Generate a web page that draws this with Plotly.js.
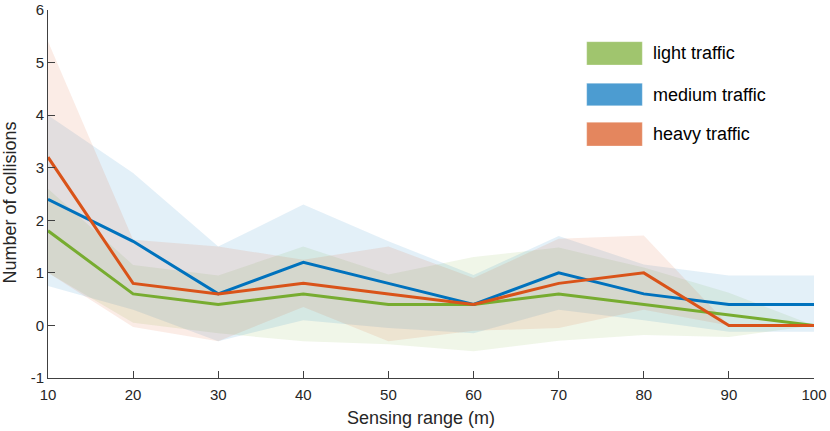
<!DOCTYPE html>
<html>
<head>
<meta charset="utf-8">
<script src="https://cdn.plot.ly/plotly-3.0.1.min.js"></script>
<style>
html,body{margin:0;padding:0;background:#fff;}
#chart{width:830px;height:431px;}
</style>
</head>
<body>
<div id="chart"></div>
<script>
// ---- data ----
var sensingRange = [10, 20, 30, 40, 50, 60, 70, 80, 90, 100];

var lightMean  = [1.8, 0.6, 0.4, 0.6, 0.4, 0.4, 0.6, 0.4, 0.2, 0.0];
var lightUpper = [2.6, 1.15, 0.95, 1.5, 0.97, 1.3, 1.48, 1.1, 0.62, 0.0];
var lightLower = [1.0, 0.05, -0.15, -0.3, -0.36, -0.49, -0.29, -0.18, -0.22, 0.0];

var mediumMean  = [2.4, 1.6, 0.6, 1.2, 0.8, 0.4, 1.0, 0.6, 0.4, 0.4];
var mediumUpper = [4.0, 2.9, 1.5, 2.3, 1.6, 0.96, 1.7, 1.16, 0.95, 0.95];
var mediumLower = [0.75, 0.3, -0.3, 0.1, -0.05, -0.15, 0.3, 0.1, -0.12, -0.12];

var heavyMean  = [3.2, 0.8, 0.6, 0.8, 0.6, 0.4, 0.8, 1.0, 0.0, 0.0];
var heavyUpper = [5.4, 1.63, 1.5, 1.25, 1.5, 0.9, 1.65, 1.71, 0.0, 0.0];
var heavyLower = [1.0, -0.03, -0.3, 0.35, -0.3, -0.1, -0.05, 0.3, 0.0, 0.0];

var seriesNames = ['light traffic', 'medium traffic', 'heavy traffic'];
var xTickVals = [10, 20, 30, 40, 50, 60, 70, 80, 90, 100];
var yTickVals = [-1, 0, 1, 2, 3, 4, 5, 6];
var yTickText = ['-1', '0', '1', '2', '3', '4', '5', '6'];

// ---- styling ----
var lineColors = ['#77AC30', '#0072BD', '#D95319'];
var bandColors = ['rgba(119,172,48,0.11)', 'rgba(0,114,189,0.11)', 'rgba(217,83,25,0.11)'];
var patchColors = ['rgba(119,172,48,0.7)', 'rgba(0,114,189,0.7)', 'rgba(217,83,25,0.7)'];
var FONT = '"Liberation Sans", Arial, Helvetica, sans-serif';

var means = [lightMean, mediumMean, heavyMean];
var uppers = [lightUpper, mediumUpper, heavyUpper];
var lowers = [lightLower, mediumLower, heavyLower];

var traces = [];
// bands
for (var i = 0; i < 3; i++) {
  var bx = sensingRange.concat(sensingRange.slice().reverse());
  var by = uppers[i].concat(lowers[i].slice().reverse());
  traces.push({
    x: bx, y: by, type: 'scatter', mode: 'lines', fill: 'toself',
    fillcolor: bandColors[i], line: {width: 0, color: 'rgba(0,0,0,0)'},
    hoverinfo: 'skip', showlegend: false, name: seriesNames[i] + ' band'
  });
}
// mean lines
for (var j = 0; j < 3; j++) {
  traces.push({
    x: sensingRange, y: means[j], type: 'scatter', mode: 'lines',
    line: {color: lineColors[j], width: 3}, name: seriesNames[j], showlegend: false
  });
}

// legend built from shapes + annotations (paper coords)
var plotL = 48, plotT = 10, plotW = 766, plotH = 368;
function px2x(p) { return (p - plotL) / plotW; }
function px2y(p) { return (plotT + plotH - p) / plotH; }
var patchTop = [41.7, 83.3, 122.3];
var patchBot = [65, 105.7, 146];
var textMid = [53.3, 95, 133.5];

var shapes = [], annotations = [];
for (var k = 0; k < 3; k++) {
  shapes.push({
    type: 'rect', xref: 'paper', yref: 'paper',
    x0: px2x(586.7), x1: px2x(642.3), y0: px2y(patchBot[k]), y1: px2y(patchTop[k]),
    fillcolor: patchColors[k], line: {width: 0.8, color: 'rgba(255,255,255,0.35)'}
  });
  annotations.push({
    xref: 'paper', yref: 'paper', x: px2x(651), y: px2y(textMid[k]),
    xanchor: 'left', yanchor: 'middle', showarrow: false, text: seriesNames[k],
    font: {family: FONT, size: 18, color: '#000'}
  });
}
// axis titles
annotations.push({
  xref: 'paper', yref: 'paper', x: px2x(421), y: px2y(418),
  xanchor: 'center', yanchor: 'middle', showarrow: false, text: 'Sensing range (m)',
  font: {family: FONT, size: 18, color: '#262626'}
});
annotations.push({
  xref: 'paper', yref: 'paper', x: px2x(9), y: px2y(202.5),
  xanchor: 'center', yanchor: 'middle', showarrow: false, textangle: -90,
  text: 'Number of collisions', font: {family: FONT, size: 18, color: '#262626'}
});

var layout = {
  width: 830, height: 431,
  margin: {l: plotL, r: 830 - plotL - plotW, t: plotT, b: 431 - plotT - plotH, pad: 0},
  paper_bgcolor: '#fff', plot_bgcolor: '#fff',
  showlegend: false,
  font: {family: FONT, size: 15, color: '#262626'},
  xaxis: {
    range: [10, 100], tickmode: 'array', tickvals: xTickVals,
    ticks: 'inside', ticklen: 7, tickwidth: 1, tickcolor: '#404040',
    showline: true, linecolor: '#404040', linewidth: 1,
    showgrid: false, zeroline: false, mirror: false,
    ticklabelstandoff: 3, ticklabeloverflow: 'allow',
    tickfont: {family: FONT, size: 15, color: '#262626'}
  },
  yaxis: {
    range: [-1, 6], tickmode: 'array', tickvals: yTickVals, ticktext: yTickText,
    ticks: 'inside', ticklen: 7, tickwidth: 1, tickcolor: '#404040',
    showline: true, linecolor: '#404040', linewidth: 1,
    showgrid: false, zeroline: false, mirror: false,
    ticklabeloverflow: 'allow',
    tickfont: {family: FONT, size: 15, color: '#262626'}
  },
  shapes: shapes,
  annotations: annotations
};

Plotly.newPlot('chart', traces, layout, {displayModeBar: false, staticPlot: true});
</script>
</body>
</html>
